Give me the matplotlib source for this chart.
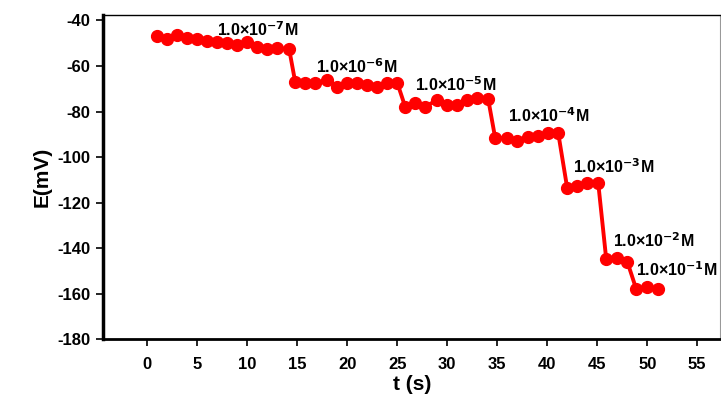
import matplotlib
matplotlib.use('Agg')
import matplotlib.pyplot as plt

plt.rcParams['font.family'] = ['Liberation Sans', 'DejaVu Sans']
plt.rcParams['font.weight'] = 'bold'
plt.rcParams['mathtext.default'] = 'bf'
plt.rcParams['axes.unicode_minus'] = False

# time (s) and potential (mV)
t = [1.0, 2.0, 3.0, 4.0, 5.0, 6.0, 7.0, 8.0, 9.0, 10.0, 11.0, 12.0, 13.0, 14.2,
     14.8, 15.8, 16.8, 18.0, 19.0, 20.0, 21.0, 22.0, 23.0, 24.0, 25.0,
     25.8, 26.8, 27.8, 29.0, 30.0, 31.0, 32.0, 33.0, 34.1,
     34.8, 36.0, 37.0, 38.1, 39.1, 40.1, 41.1,
     42.0, 43.0, 44.0, 45.1,
     45.9, 47.0, 48.0,
     48.9, 50.0, 51.1]
E = [-46.7, -48.1, -46.4, -47.8, -48.3, -48.9, -49.3, -50.0, -50.8, -49.3, -51.8, -52.6, -52.2, -52.6,
     -66.9, -67.3, -67.6, -66.1, -69.1, -67.6, -67.6, -68.3, -69.1, -67.3, -67.3,
     -77.9, -76.4, -77.9, -74.9, -77.1, -77.1, -74.9, -74.2, -74.6,
     -91.7, -91.7, -92.8, -91.0, -90.7, -89.5, -89.5,
     -113.7, -112.7, -111.5, -111.5,
     -144.9, -144.4, -145.9,
     -158.0, -156.9, -158.0]

# concentration labels and where they sit
exponents = [-7, -6, -5, -4, -3, -2, -1]
label_t = [11.1, 21.0, 30.9, 40.1, 46.6, 50.6, 52.9]
label_E = [-44.0, -60.5, -68.0, -82.0, -104.0, -136.5, -149.6]

fig = plt.figure(figsize=(7.21, 3.94), dpi=100)
ax = fig.add_axes([0.143, 0.139, 0.856, 0.823])

ax.plot(t, E, color='#ff0000', lw=2.8, marker='o', ms=8.5, mec='#ff0000', mfc='#ff0000')

for ex, lt, le in zip(exponents, label_t, label_E):
    ax.text(lt, le, '1.0×10$^{%d}$M' % ex, ha='center', va='center',
            fontsize=11.5, fontweight='bold')

ax.set_xlim(-4.4, 57.3)
ax.set_ylim(-180, -37.6)
ax.set_xticks(range(0, 60, 5))
ax.set_yticks(range(-180, -39, 20))
ax.tick_params(axis='both', labelsize=12, direction='out', length=5, width=1.2, pad=8)
ax.tick_params(axis='y', pad=4)

ax.spines['left'].set_linewidth(2.5)
ax.spines['bottom'].set_linewidth(2)
ax.spines['top'].set_linewidth(1)
ax.spines['right'].set_linewidth(0.8)
ax.spines['right'].set_color('#999999')

ax.set_xlabel('t (s)', fontsize=15, fontweight='bold', labelpad=2)
ax.set_ylabel('E(mV)', fontsize=15, fontweight='bold', labelpad=4)

fig.savefig('out.png', dpi=100)
